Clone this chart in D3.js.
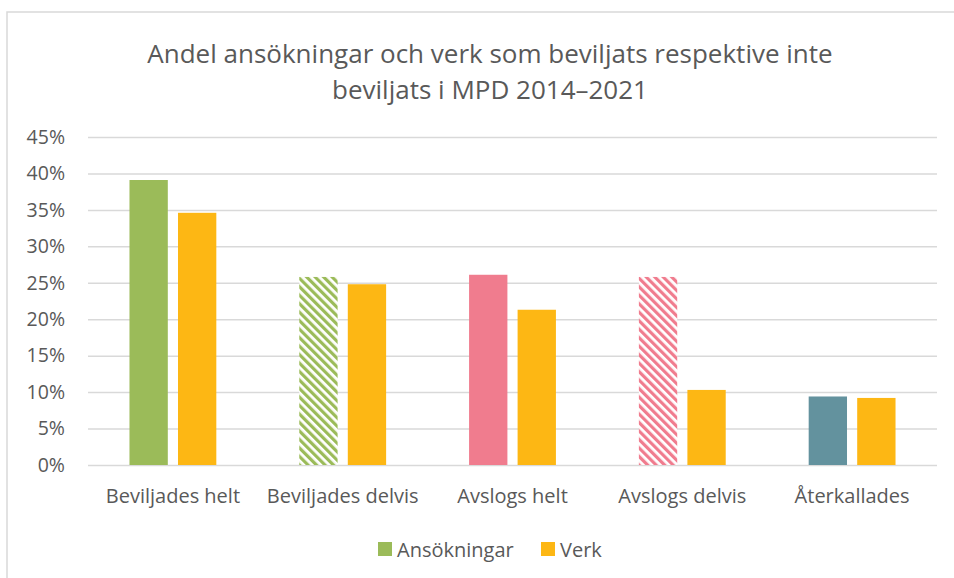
<!DOCTYPE html>
<html lang="en">
<head>
  <meta charset="UTF-8">
  <title>Andel ansökningar och verk</title>
  <script src="https://d3js.org/d3.v7.min.js"></script>
  <style>
    body { margin: 0; background: #fff; }
    text { font-family: "Open Sans", sans-serif; fill: #595959; }
    .gridlines line { stroke: #d9d9d9; stroke-width: 1.5; }
    .gridlines .domain { stroke: none; }
    .axis .domain, .axis line { stroke: none; }
  </style>
</head>
<body>
  <svg id="chart" width="954" height="578"></svg>
  <script>
    const categories = ["Beviljades helt", "Beviljades delvis", "Avslogs helt", "Avslogs delvis", "Återkallades"];
    const series = ["Ansökningar", "Verk"];
    const ansokningar = [0.391, 0.258, 0.261, 0.258, 0.094];
    const verk = [0.346, 0.248, 0.213, 0.103, 0.092];
    const yTicks = [0, 0.05, 0.10, 0.15, 0.20, 0.25, 0.30, 0.35, 0.40, 0.45];
    // colour (and hatch) of the Ansökningar bar in each category
    const ansFills = ["#9bbb59", "url(#hatchGreen)", "#f07c8e", "url(#hatchPink)", "#63929e"];
    const verkColor = "#fdb714";

    const svg = d3.select("#chart");
    const width = +svg.attr("width");
    const margins = { top: 137, right: 17, bottom: 113, left: 88 };
    const chartWidth = width - margins.left - margins.right;
    const chartHeight = 578 - margins.top - margins.bottom;

    // hatch patterns
    const defs = svg.append("defs");
    function hatch(id, color) {
      const p = defs.append("pattern")
        .attr("id", id)
        .attr("patternUnits", "userSpaceOnUse")
        .attr("width", 6).attr("height", 6)
        .attr("patternTransform", "rotate(-45)");
      p.append("rect").attr("width", 6).attr("height", 6).attr("fill", "#fff");
      p.append("rect").attr("width", 3.2).attr("height", 6).attr("fill", color);
    }
    hatch("hatchGreen", "#9bbb59");
    hatch("hatchPink", "#f07c8e");

    // outer frame (cropped on right and bottom)
    svg.append("rect")
      .attr("x", 7).attr("y", 12)
      .attr("width", 980).attr("height", 600)
      .attr("fill", "none")
      .attr("stroke", "#d9d9d9")
      .attr("stroke-width", 1.5);

    // title
    svg.append("text")
      .attr("x", 490).attr("y", 63)
      .attr("text-anchor", "middle")
      .attr("font-size", "26px")
      .text("Andel ansökningar och verk som beviljats respektive inte");
    svg.append("text")
      .attr("x", 490).attr("y", 99)
      .attr("text-anchor", "middle")
      .attr("font-size", "26px")
      .text("beviljats i MPD 2014–2021");

    const chartArea = svg.append("g").attr("transform", `translate(${margins.left},${margins.top})`);

    const xScale = d3.scaleBand()
      .domain(categories)
      .range([0, chartWidth]);

    const xInner = d3.scaleBand()
      .domain(series)
      .range([0, xScale.bandwidth()])
      .paddingInner(0.21)
      .paddingOuter(0.855);

    const yScale = d3.scaleLinear()
      .domain([0, 0.45])
      .range([chartHeight, 0]);

    // gridlines
    chartArea.append("g")
      .attr("class", "gridlines")
      .call(d3.axisLeft(yScale).tickValues(yTicks).tickSize(-chartWidth).tickFormat(""));

    // y axis labels
    chartArea.append("g")
      .attr("class", "axis")
      .attr("transform", "translate(-15,0)")
      .call(d3.axisLeft(yScale).tickValues(yTicks).tickSize(0).tickPadding(8).tickFormat(d3.format(".0%")))
      .selectAll("text")
      .attr("font-size", "19.5px")
      .attr("fill", "#595959");

    // x axis labels
    chartArea.append("g")
      .attr("class", "axis")
      .attr("transform", `translate(0,${chartHeight})`)
      .call(d3.axisBottom(xScale).tickSize(0).tickPadding(24))
      .selectAll("text")
      .attr("font-size", "20px")
      .attr("fill", "#595959");

    // bars
    const groups = chartArea.selectAll("g.cat").data(categories)
      .join("g").attr("class", "cat")
      .attr("transform", d => `translate(${xScale(d)},0)`);

    groups.append("rect")
      .attr("x", xInner("Ansökningar"))
      .attr("y", (d, i) => yScale(ansokningar[i]))
      .attr("width", xInner.bandwidth())
      .attr("height", (d, i) => yScale(0) - yScale(ansokningar[i]))
      .attr("fill", (d, i) => ansFills[i]);

    groups.append("rect")
      .attr("x", xInner("Verk"))
      .attr("y", (d, i) => yScale(verk[i]))
      .attr("width", xInner.bandwidth())
      .attr("height", (d, i) => yScale(0) - yScale(verk[i]))
      .attr("fill", verkColor);

    // legend
    const legend = svg.append("g").attr("transform", "translate(378,541)");
    const legendColors = ["#9bbb59", verkColor];
    const legendX = [0, 163];
    series.forEach((s, i) => {
      legend.append("rect")
        .attr("x", legendX[i]).attr("y", 1)
        .attr("width", 14).attr("height", 14)
        .attr("fill", legendColors[i]);
      legend.append("text")
        .attr("x", legendX[i] + 19).attr("y", 16)
        .attr("font-size", "20px")
        .text(s);
    });
  </script>
</body>
</html>
